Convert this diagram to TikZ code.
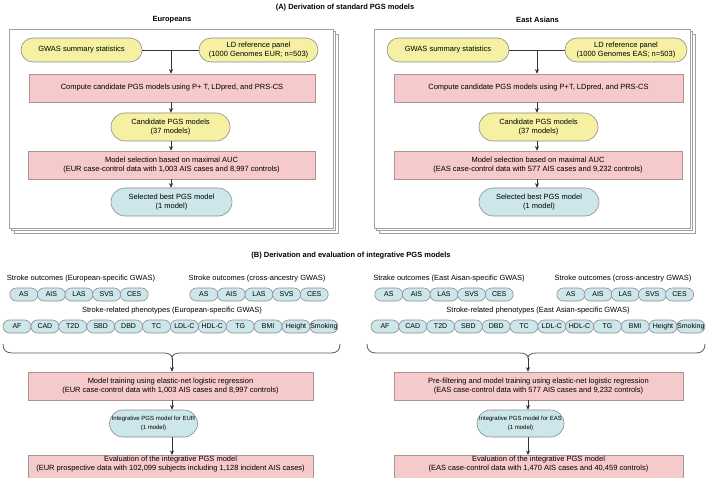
\documentclass[tikz,border=0pt]{standalone}
\usepackage{fontspec}
\setmainfont{Liberation Sans}
\usetikzlibrary{arrows.meta,calc}
\definecolor{yelc}{HTML}{F6F0A2}
\definecolor{pinkc}{HTML}{F6C9CA}
\definecolor{bluec}{HTML}{CCE6EA}
\definecolor{bordc}{HTML}{8C8C8C}
\definecolor{pbord}{HTML}{A89696}
\definecolor{framec}{HTML}{A0A0A0}
\definecolor{linec}{HTML}{333333}
\tikzset{
  box/.style={draw=bordc, line width=0.6pt, inner sep=0pt, align=center, font=\fontsize{7.5}{9}\selectfont},
  yelbox/.style={box, fill=yelc, rounded corners=12pt, minimum height=24},
  yelbig/.style={box, fill=yelc, rounded corners=14pt, minimum height=28},
  pinkbox/.style={box, draw=pbord, fill=pinkc, minimum height=28},
  bluebox/.style={box, fill=bluec, rounded corners=13.5pt, minimum height=27},
  pill/.style={box, fill=bluec, rounded corners=6.5pt, minimum width=28, minimum height=13, font=\fontsize{7}{8}\selectfont},
  lbl/.style={inner sep=0pt, font=\fontsize{7.5}{9}\selectfont},
  ttl/.style={inner sep=0pt, font=\fontsize{7.5}{9}\selectfont\bfseries},
  frame/.style={draw=framec, line width=0.7pt, fill=white},
  conn/.style={draw=linec, line width=0.6pt},
  arr/.style={conn, -{Stealth[length=4.5pt,width=4pt]}},
  bracec/.style={draw=linec!80, line width=0.8pt}
}
\begin{document}
\begin{tikzpicture}[x=1pt,y=-1pt]
\useasboundingbox (0,0) rectangle (709,478);

% ---------- (A) ----------
\node[ttl] (tA) at (345,7.5) {(A) Derivation of standard PGS models};
\node[ttl] (tEur) at (172,19.5) {Europeans};
\node[ttl] (tEas) at (537.5,19.5) {East Asians};

\foreach \d in {5,2.5,0} {
  \draw[frame] (9+\d,29+\d) rectangle (333+\d,228+\d);
  \draw[frame] (374+\d,29+\d) rectangle (690+\d,228+\d);
}

% Europeans
\node[yelbox, minimum width=121] (gwasL) at (81.5,50) {GWAS summary statistics};
\node[yelbox, minimum width=119] (ldL) at (258.5,50) {LD reference panel\\(1000 Genomes EUR; n=503)};
\node[pinkbox, minimum width=286] (pL1) at (172,88) {Compute candidate PGS models using P+ T, LDpred, and PRS-CS};
\node[yelbig, minimum width=119] (candL) at (170.5,127) {Candidate PGS models\\(37 models)};
\node[pinkbox, minimum width=287] (pL2) at (171.5,165) {Model selection based on maximal AUC\\(EUR case-control data with 1,003 AIS cases and 8,997 controls)};
\node[bluebox, minimum width=121, minimum height=28, rounded corners=14pt] (selL) at (171.5,202) {Selected best PGS model\\(1 model)};
\coordinate (jL) at (171,50);
\draw[conn] (gwasL.east) -- (ldL.west);
\draw[arr] (jL) -- (jL |- pL1.north);
\draw[arr] (pL1.south -| jL) -- (jL |- candL.north);
\draw[arr] (candL.south -| jL) -- (jL |- pL2.north);
\draw[arr] (pL2.south -| jL) -- (jL |- selL.north);

% East Asians
\node[yelbox, minimum width=122] (gwasR) at (448,50) {GWAS summary statistics};
\node[yelbox, minimum width=122] (ldR) at (626,50) {LD reference panel\\(1000 Genomes EAS; n=503)};
\node[pinkbox, minimum width=289] (pR1) at (538.5,88) {Compute candidate PGS models using P+T, LDpred, and PRS-CS};
\node[yelbig, minimum width=119] (candR) at (538.5,127) {Candidate PGS models\\(37 models)};
\node[pinkbox, minimum width=288] (pR2) at (538,165) {Model selection based on maximal AUC\\(EAS case-control data with 577 AIS cases and 9,232 controls)};
\node[bluebox, minimum width=120, minimum height=28, rounded corners=14pt] (selR) at (539,202) {Selected best PGS model\\(1 model)};
\coordinate (jR) at (537,50);
\draw[conn] (gwasR.east) -- (ldR.west);
\draw[arr] (jR) -- (jR |- pR1.north);
\draw[arr] (pR1.south -| jR) -- (jR |- candR.north);
\draw[arr] (candR.south -| jR) -- (jR |- pR2.north);
\draw[arr] (pR2.south -| jR) -- (jR |- selR.north);

% ---------- (B) ----------
\node[ttl] (tB) at (351,255.5) {(B) Derivation and evaluation of integrative PGS models};

% labels and pills
\node[lbl] (oL1) at (81,279) {Stroke outcomes (European-specific GWAS)};
\node[lbl] (oL2) at (257,279) {Stroke outcomes (cross-ancestry GWAS)};
\node[lbl] (phL) at (172,311) {Stroke-related phenotypes (European-specific GWAS)};
\foreach \t [count=\i] in {AS,AIS,LAS,SVS,CES} {
  \node[pill] (aL\i) at ({23.8+27.6*(\i-1)},294.5) {\t};
  \node[pill] (cL\i) at ({203.8+27.6*(\i-1)},294.5) {\t};
  \node[pill] (aR\i) at ({388.8+27.6*(\i-1)},294.5) {\t};
  \node[pill] (cR\i) at ({570.8+27.2*(\i-1)},294.5) {\t};
}
\foreach \t [count=\i] in {AF,CAD,T2D,SBD,DBD,TC,LDL-C,HDL-C,TG,BMI,Height,Smoking} {
  \node[pill] (pL\i) at ({17+27.9*(\i-1)},326.5) {\t};
  \node[pill] (pR\i) at ({385+27.8*(\i-1)},326.5) {\t};
}
\node[lbl] (oR1) at (449,279) {Strake outcomes (East Aisan-specific GWAS)};
\node[lbl] (oR2) at (623,279) {Stroke outcomes (cross-ancestry GWAS)};
\node[lbl] (phR) at (538,311) {Stroke-related phenotypes (East Asian-specific GWAS)};

% braces
\draw[bracec] (3,344) .. controls (3,350) and (6,353) .. (12,353) -- (164,353)
  .. controls (169,353) and (172,355) .. (172,358)
  .. controls (172,355) and (175,353) .. (180,353) -- (331,353)
  .. controls (337,353) and (340,350) .. (340,344);
\coordinate (bL) at (172,358);
\draw[bracec] (367,344) .. controls (367,350) and (370,353) .. (376,353) -- (520,353)
  .. controls (525,353) and (528,355) .. (528,358)
  .. controls (528,355) and (531,353) .. (536,353) -- (696,353)
  .. controls (702,353) and (705,350) .. (705,344);
\coordinate (bR) at (528,358);

% left bottom flow
\node[pinkbox, minimum width=285] (trL) at (170.5,386) {Model training using elastic-net logistic regression\\(EUR case-control data with 1,003 AIS cases and 8,997 controls)};
\node[bluebox, minimum width=88, font=\fontsize{6}{8.5}\selectfont] (intL) at (153.5,423.5) {Integrative PGS model for EUR\\(1 model)};
\node[pinkbox, minimum width=285, minimum height=30, anchor=north] (evL) at (170.5,455) {};
\node[lbl, align=center] (evLt) at (170.5,463.8) {Evaluation of the integrative PGS model\\(EUR prospective data with 102,099 subjects including 1,128 incident AIS cases)};
\draw[arr] (bL) -- (bL |- trL.north);
\draw[arr] (trL.south -| bL) -- (bL |- intL.north);
\draw[arr] (intL.south -| bL) -- (bL |- evL.north);

% right bottom flow
\node[pinkbox, minimum width=289] (trR) at (538.5,386) {Pre-filtering and model training using elastic-net logistic regression\\(EAS case-control data with 577 AIS cases and 9,232 controls)};
\node[bluebox, minimum width=87, font=\fontsize{6}{8.5}\selectfont] (intR) at (520.5,423.5) {Integrative PGS model for EAS\\(1 model)};
\node[pinkbox, minimum width=289, minimum height=30, anchor=north] (evR) at (538.5,455) {};
\node[lbl, align=center] (evRt) at (538.5,463.8) {Evaluation of the integrative PGS model\\(EAS case-control data with 1,470 AIS cases and 40,459 controls)};
\draw[arr] (bR) -- (bR |- trR.north);
\draw[arr] (trR.south -| bR) -- (bR |- intR.north);
\draw[arr] (intR.south -| bR) -- (bR |- evR.north);
\end{tikzpicture}
\end{document}
